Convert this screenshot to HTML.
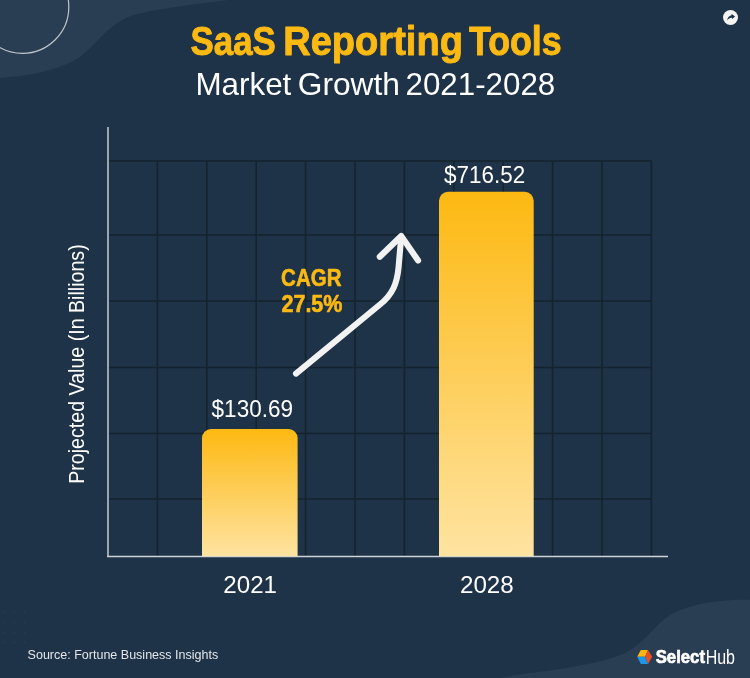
<!DOCTYPE html>
<html><head><meta charset="utf-8">
<style>
*{margin:0;padding:0}
html,body{width:750px;height:678px;overflow:hidden;background:#1e3348}
svg{display:block;will-change:transform;font-family:"Liberation Sans",sans-serif}
</style></head>
<body>
<svg width="750" height="678" viewBox="0 0 750 678">
<defs>
<linearGradient id="g1" x1="0" y1="0" x2="0" y2="1"><stop offset="0" stop-color="#fdb912"/><stop offset="1" stop-color="#fee3a1"/></linearGradient>
<linearGradient id="g2" x1="0" y1="0" x2="0" y2="1"><stop offset="0" stop-color="#fdb912"/><stop offset="1" stop-color="#fee3a1"/></linearGradient>
</defs>
<rect width="750" height="678" fill="#1e3348"/>
<path d="M0 78 C30 76 60 70 80 57 C95 46 105 28 128 17 C150 9 190 5 228 0 L0 0 Z" fill="#2a3e53"/>
<circle cx="22.5" cy="7" r="46.3" fill="none" stroke="#bfc5cb" stroke-width="1.2"/>
<path d="M499 678 C540 671 600 666 627 652 C647 640 655 625 670 615 C690 604 715 600 750 599.5 L750 678 Z" fill="#2a3e53"/>
<g fill="#263a4e"><circle cx="4.6" cy="612.4" r="1.15"/><circle cx="4.6" cy="622.4" r="1.15"/><circle cx="4.6" cy="632.5" r="1.15"/><circle cx="4.6" cy="642.5" r="1.15"/><circle cx="14.5" cy="612.4" r="1.15"/><circle cx="14.5" cy="622.4" r="1.15"/><circle cx="14.5" cy="632.5" r="1.15"/><circle cx="14.5" cy="642.5" r="1.15"/><circle cx="24.4" cy="612.4" r="1.15"/><circle cx="24.4" cy="622.4" r="1.15"/><circle cx="24.4" cy="632.5" r="1.15"/><circle cx="24.4" cy="642.5" r="1.15"/></g>
<g stroke="#14232d" stroke-width="1.6"><line x1="108" y1="161" x2="652" y2="161"/><line x1="108" y1="235" x2="652" y2="235"/><line x1="108" y1="301" x2="652" y2="301"/><line x1="108" y1="367.5" x2="652" y2="367.5"/><line x1="108" y1="433.5" x2="652" y2="433.5"/><line x1="108" y1="499" x2="652" y2="499"/><line x1="157.4" y1="161" x2="157.4" y2="556"/><line x1="206.8" y1="161" x2="206.8" y2="556"/><line x1="256.2" y1="161" x2="256.2" y2="556"/><line x1="305.6" y1="161" x2="305.6" y2="556"/><line x1="355.0" y1="161" x2="355.0" y2="556"/><line x1="404.4" y1="161" x2="404.4" y2="556"/><line x1="453.8" y1="161" x2="453.8" y2="556"/><line x1="503.2" y1="161" x2="503.2" y2="556"/><line x1="552.6" y1="161" x2="552.6" y2="556"/><line x1="602.0" y1="161" x2="602.0" y2="556"/><line x1="651.4" y1="161" x2="651.4" y2="556"/></g>
<line x1="108" y1="127" x2="108" y2="557" stroke="#9aa5ad" stroke-width="2"/>
<line x1="107" y1="556.5" x2="668" y2="556.5" stroke="#cdd2d6" stroke-width="1.5"/>
<path d="M202 556.2 V438 A9 9 0 0 1 211 429 H288.6 A9 9 0 0 1 297.6 438 V556.2 Z" fill="url(#g1)"/>
<path d="M439 556.2 V200.8 A9 9 0 0 1 448 191.8 H524.7 A9 9 0 0 1 533.7 200.8 V556.2 Z" fill="url(#g2)"/>
<path d="M296 373.6 L380 304.5 C393 294 397 283 398.5 268 L401.2 237" fill="none" stroke="#f2f2f2" stroke-width="6.1" stroke-linecap="round" stroke-linejoin="round"/>
<path d="M379.8 256.8 L401.2 236 L418.1 260.5" fill="none" stroke="#f2f2f2" stroke-width="6.1" stroke-linecap="round" stroke-linejoin="round"/>
<circle cx="730.5" cy="17.5" r="7.5" fill="#f4f4f4"/>
<path d="M727.2 20.4 C727.4 17.8 729 15.9 731.4 15.3 L731.7 13.9 L735.1 16.5 L732.1 19 L731.8 17.7 C730 17.6 728.4 18.6 727.2 20.4 Z" fill="#1e3348"/>
<path d="M640.8 649.9 L648 649.9 L645.1 656.8 L637.2 656.8 Z" fill="#fbb614"/>
<path d="M648 649.9 L652.2 656.8 L648 664 L645.1 656.8 Z" fill="#e84d23"/>
<path d="M637.2 656.8 L645.1 656.8 L648 664 L640.8 664 Z" fill="#1d97e8"/>
<text transform="translate(190.58 55.449999999999996) scale(0.8605 1)" font-size="40.48" font-weight="bold" fill="#fcb912" stroke="#fcb912" stroke-width="0.9" stroke-linejoin="round">SaaS</text><text transform="translate(283.13 55.449999999999996) scale(0.9409 1)" font-size="40.48" font-weight="bold" fill="#fcb912" stroke="#fcb912" stroke-width="0.9" stroke-linejoin="round">Reporting</text><text transform="translate(468.92 55.449999999999996) scale(0.8847 1)" font-size="40.48" font-weight="bold" fill="#fcb912" stroke="#fcb912" stroke-width="0.9" stroke-linejoin="round">Tools</text><text transform="translate(195.38 95.4) scale(0.9956 1)" font-size="31.54" font-weight="normal" fill="#ffffff">Market</text><text transform="translate(297.72 95.4) scale(1.0065 1)" font-size="31.54" font-weight="normal" fill="#ffffff">Growth</text><text transform="translate(405.48 95.4) scale(0.9932 1)" font-size="31.54" font-weight="normal" fill="#ffffff">2021-2028</text><text transform="translate(211.58 416.9) scale(0.9511 1)" font-size="23.69" font-weight="normal" fill="#ffffff">$130.69</text><text transform="translate(444.08 183.1) scale(0.9478 1)" font-size="23.69" font-weight="normal" fill="#ffffff">$716.52</text><text transform="translate(223.37 592.8) scale(1.0054 1)" font-size="23.98" font-weight="normal" fill="#ffffff">2021</text><text transform="translate(459.96 592.8) scale(1.0098 1)" font-size="23.98" font-weight="normal" fill="#ffffff">2028</text><text transform="translate(281.09 285.5) scale(0.871 1)" font-size="23.55" font-weight="bold" fill="#fcb912" stroke="#fcb912" stroke-width="0.6" stroke-linejoin="round">CAGR</text><text transform="translate(281.43 311.7) scale(0.9149 1)" font-size="23.55" font-weight="bold" fill="#fcb912" stroke="#fcb912" stroke-width="0.6" stroke-linejoin="round">27.5%</text><text transform="translate(27.57 658.7) scale(0.9171 1)" font-size="13.66" font-weight="normal" fill="#e4e6e9">Source: Fortune Business Insights</text>
<text transform="translate(83.9 483.75) rotate(-90) scale(0.9119 1)" font-size="21.51" fill="#ffffff">Projected Value (In Billions)</text>
<text transform="translate(655.69 663.15) scale(0.9067 1)" font-size="18.46" font-weight="bold" fill="#ffffff" stroke="#ffffff" stroke-width="0.7" stroke-linejoin="round">Select</text><text transform="translate(705.64 663.5) scale(0.8229 1)" font-size="19.48" font-weight="normal" fill="#ffffff">Hub</text>
</svg>
</body></html>
